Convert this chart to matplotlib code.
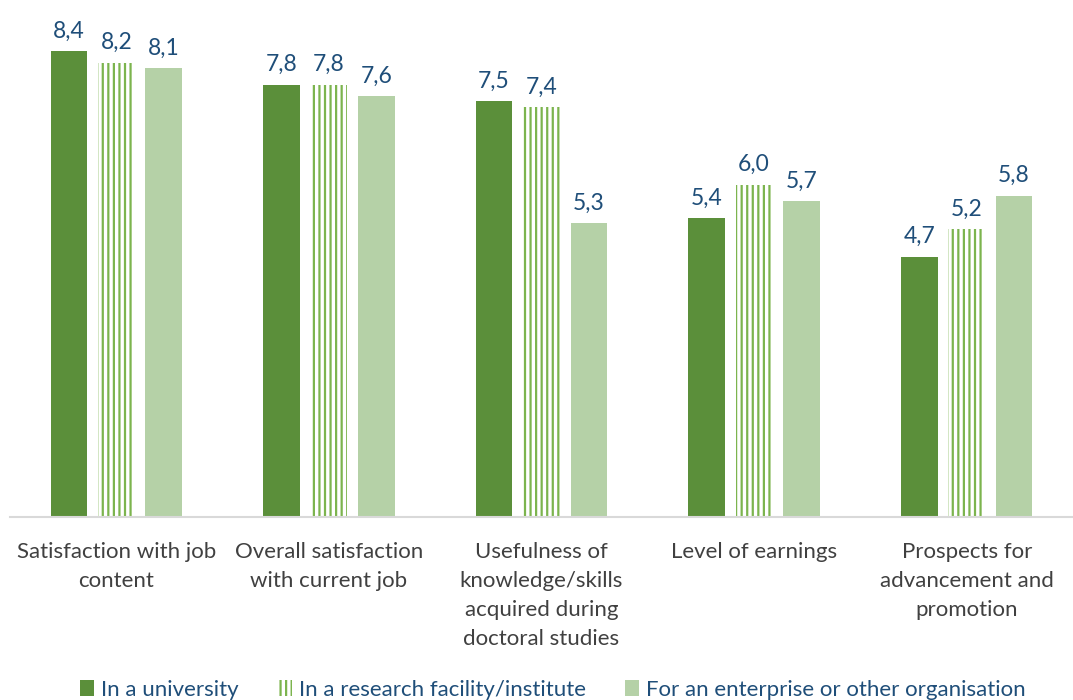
import numpy as np
import matplotlib.pyplot as plt
from matplotlib.patches import Patch

categories = ["Satisfaction with job\ncontent",
              "Overall satisfaction\nwith current job",
              "Usefulness of\nknowledge/skills\nacquired during\ndoctoral studies",
              "Level of earnings",
              "Prospects for\nadvancement and\npromotion"]
university = [8.4, 7.8, 7.5, 5.4, 4.7]
research = [8.2, 7.8, 7.4, 6.0, 5.2]
enterprise = [8.1, 7.6, 5.3, 5.7, 5.8]
series_names = ["In a university", "In a research facility/institute",
                "For an enterprise or other organisation"]

plt.rcParams['font.family'] = ['Lato', 'DejaVu Sans']
plt.rcParams['hatch.linewidth'] = 1.6

dark = "#5B8F3A"
stripe = "#7CB44E"
light = "#B5D1A7"
label_col = "#1F4E79"
text_col = "#404040"

fig = plt.figure(figsize=(10.73, 7.0), dpi=100)
ax = fig.add_axes([0.0093, 0.261, 0.9907, 0.713])

x = np.arange(len(categories))
w = 0.172
off = 0.223

b1 = ax.bar(x - off, university, w, color=dark)
b2 = ax.bar(x, research, w, facecolor="white", edgecolor=stripe, hatch="|||", linewidth=0)
b3 = ax.bar(x + off, enterprise, w, color=light)

for bars, vals in [(b1, university), (b2, research), (b3, enterprise)]:
    for b, v in zip(bars, vals):
        ax.text(b.get_x() + b.get_width() / 2, v + 0.17, f"{v:.1f}".replace(".", ","),
                ha="center", va="bottom", fontsize=16.5, color=label_col)

ax.set_xlim(-0.5, 4.5)
ax.set_ylim(0, 9)
ax.set_xticks(x)
ax.set_xticklabels(categories, fontsize=16, color=text_col, va="top", linespacing=1.55)
ax.tick_params(axis="x", length=0, pad=18)
ax.set_yticks([])
for s in ["top", "right", "left"]:
    ax.spines[s].set_visible(False)
ax.spines["bottom"].set_color("#D9D9D9")
ax.spines["bottom"].set_linewidth(1.5)

handles = [Patch(facecolor=dark),
           Patch(facecolor="white", edgecolor=stripe, hatch="|||", linewidth=0),
           Patch(facecolor=light)]
leg = fig.legend(handles, series_names, loc="lower center", bbox_to_anchor=(0.515, -0.028),
                 ncol=3, frameon=False, fontsize=16, handlelength=0.65, handleheight=0.7,
                 handletextpad=0.3, columnspacing=1.75)
for t in leg.get_texts():
    t.set_color(label_col)

fig.savefig("out.png", dpi=100)
